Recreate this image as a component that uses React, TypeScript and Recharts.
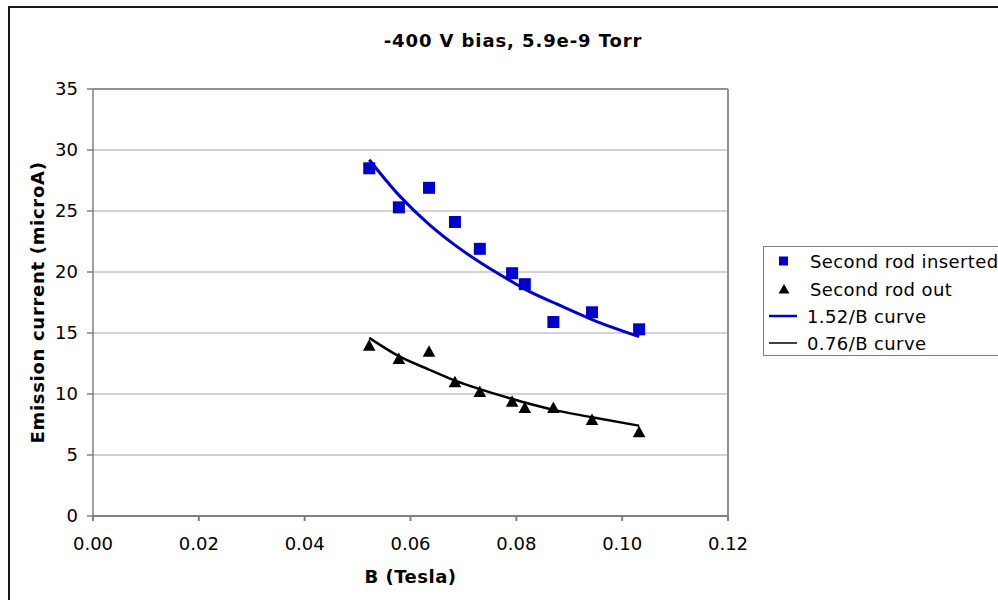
import React from 'react';
import {
  ComposedChart,
  Scatter,
  Line,
  XAxis,
  YAxis,
  CartesianGrid,
  ReferenceLine,
} from 'recharts';

// ---- data ----
const bField = [0.0522, 0.0578, 0.0635, 0.0684, 0.0731, 0.0792, 0.0816, 0.087, 0.0943, 0.1032];
const rodInserted = [28.5, 25.3, 26.9, 24.1, 21.9, 19.9, 19.0, 15.9, 16.7, 15.3];
const rodOut = [14.0, 12.9, 13.5, 11.0, 10.2, 9.4, 8.9, 8.9, 7.9, 6.9];
const curve152 = [29.2, 26.3, 23.9, 22.2, 20.8, 19.2, 18.6, 17.5, 16.1, 14.7];
const curve076 = [14.6, 13.1, 12.0, 11.1, 10.4, 9.6, 9.3, 8.7, 8.1, 7.4];
const xTicks = [0, 0.02, 0.04, 0.06, 0.08, 0.1, 0.12];
const yTicks = [0, 5, 10, 15, 20, 25, 30, 35];
const seriesNames = ['Second rod inserted', 'Second rod out', '1.52/B curve', '0.76/B curve'];
const title = '-400 V bias, 5.9e-9 Torr';
const xTitle = 'B (Tesla)';
const yTitle = 'Emission current (microA)';

const BLUE = '#0000CC';
const FONT = '"DejaVu Sans", Verdana, sans-serif';

const data = bField.map((b, i) => ({
  b,
  inserted: rodInserted[i],
  out: rodOut[i],
  c1: curve152[i],
  c2: curve076[i],
}));

const Square = (props: any) => {
  const { cx, cy } = props;
  if (cx == null || cy == null) return null;
  return <rect x={cx - 6} y={cy - 6} width={12} height={12} fill={BLUE} />;
};

const Triangle = (props: any) => {
  const { cx, cy } = props;
  if (cx == null || cy == null) return null;
  return (
    <polygon
      points={`${cx},${cy - 6} ${cx + 6.3},${cy + 5.5} ${cx - 6.3},${cy + 5.5}`}
      fill="#000"
    />
  );
};

const LegendBox = () => {
  const rowY = [15, 43, 70, 97];
  return (
    <svg
      width={240}
      height={112}
      style={{ position: 'absolute', left: 763, top: 246, overflow: 'visible' }}
    >
      <rect x={0.5} y={0.5} width={260} height={109} fill="#fff" stroke="#808080" strokeWidth={1} />
      <rect x={16} y={rowY[0] - 4.5} width={9} height={9} fill={BLUE} />
      <polygon
        points={`${21},${rowY[1] - 5} ${26.5},${rowY[1] + 4.5} ${15.5},${rowY[1] + 4.5}`}
        fill="#000"
      />
      <line x1={6} x2={34} y1={rowY[2]} y2={rowY[2]} stroke={BLUE} strokeWidth={2.5} />
      <line x1={6} x2={34} y1={rowY[3]} y2={rowY[3]} stroke="#000" strokeWidth={1.5} />
      {seriesNames.map((n, i) => (
        <text
          key={n}
          x={i < 2 ? 47 : 44}
          y={rowY[i] + 6.5}
          fontFamily={FONT}
          fontSize={18}
          letterSpacing={0.4}
          fill="#000"
        >
          {n}
        </text>
      ))}
    </svg>
  );
};

export default function App() {
  return (
    <div
      style={{
        position: 'absolute',
        left: 0,
        top: 0,
        width: 998,
        height: 600,
        overflow: 'hidden',
        background: '#fff',
      }}
    >
      <div
        style={{
          position: 'absolute',
          left: 8,
          top: 6,
          width: 1100,
          height: 700,
          border: '2px solid #1a1a1a',
          boxSizing: 'border-box',
        }}
      />
      <ComposedChart
        width={998}
        height={600}
        data={data}
        margin={{ top: 89, right: 270, bottom: 54, left: 0 }}
        style={{ position: 'absolute', left: 0, top: 0 }}
      >
        <CartesianGrid horizontal vertical={false} stroke="#a6a6a6" strokeWidth={1} />
        <XAxis
          type="number"
          dataKey="b"
          domain={[0, 0.12]}
          ticks={xTicks}
          tickFormatter={(v: number) => v.toFixed(2)}
          height={30}
          stroke="#808080"
          strokeWidth={2}
          tickSize={5}
          tickMargin={16}
          tick={{ fill: '#000', fontSize: 18, fontFamily: FONT }}
          interval={0}
          label={{
            value: xTitle,
            position: 'bottom',
            offset: 24,
            style: { fontFamily: FONT, fontSize: 18, fontWeight: 'bold', fill: '#000', letterSpacing: 0.5 },
          }}
        />
        <YAxis
          type="number"
          domain={[0, 35]}
          ticks={yTicks}
          width={93}
          stroke="#808080"
          strokeWidth={1.5}
          tickSize={6}
          tickMargin={9}
          interval={0}
          tick={{ fill: '#000', fontSize: 18, fontFamily: FONT }}
          label={{
            value: yTitle,
            angle: -90,
            position: 'insideLeft',
            offset: 38,
            style: {
              textAnchor: 'middle',
              fontFamily: FONT,
              fontSize: 18,
              fontWeight: 'bold',
              fill: '#000',
              letterSpacing: 0.7,
            },
          }}
        />
        <ReferenceLine x={0.12} stroke="#909090" strokeWidth={2} />
        <ReferenceLine y={35} stroke="#909090" strokeWidth={2} />
        <Line
          dataKey="c1"
          type="monotone"
          stroke={BLUE}
          strokeWidth={3}
          dot={false}
          activeDot={false}
          isAnimationActive={false}
        />
        <Line
          dataKey="c2"
          type="monotone"
          stroke="#000"
          strokeWidth={2.5}
          dot={false}
          activeDot={false}
          isAnimationActive={false}
        />
        <Scatter dataKey="inserted" shape={Square} isAnimationActive={false} />
        <Scatter dataKey="out" shape={Triangle} isAnimationActive={false} />
      </ComposedChart>
      <svg
        width={998}
        height={60}
        style={{ position: 'absolute', left: 0, top: 0, pointerEvents: 'none' }}
      >
        <text
          x={513}
          y={46.5}
          textAnchor="middle"
          fontFamily={FONT}
          fontSize={18}
          fontWeight="bold"
          letterSpacing={0.9}
          fill="#000"
        >
          {title}
        </text>
      </svg>
      <LegendBox />
    </div>
  );
}
